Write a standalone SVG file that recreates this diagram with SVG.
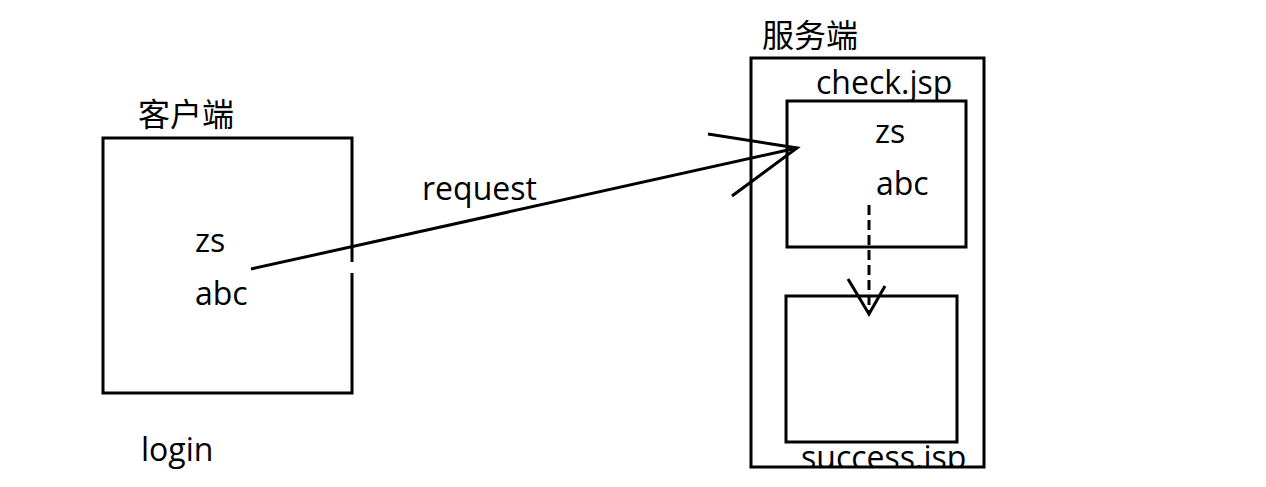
<svg xmlns="http://www.w3.org/2000/svg" width="1266" height="487" viewBox="0 0 1266 487">
<style>
.box{fill:none;stroke:#000;stroke-width:3}
.t{font-family:"Open Sans","Noto Sans CJK SC",sans-serif;font-size:32px;fill:#000}
.c{font-family:"Noto Sans CJK SC",sans-serif;font-size:32px;fill:#000}
.ln{stroke:#000;stroke-width:3;fill:none}
</style>
<defs>
<clipPath id="clipCheck"><rect x="800" y="50" width="180" height="50"/></clipPath>
<clipPath id="clipSucc"><rect x="790" y="430" width="200" height="36"/></clipPath>
<clipPath id="clipAbc"><rect x="180" y="270" width="67" height="50"/></clipPath>
</defs>
<rect width="1266" height="487" fill="#fff"/>
<g id="client">
<rect class="box" x="103" y="138" width="249" height="255"/>
<text class="c" x="138" y="126">客户端</text>
<text class="t" x="195" y="252">zs</text>
<text class="t" x="195" y="305" clip-path="url(#clipAbc)">abc</text>
<rect x="349" y="262" width="6" height="11" fill="#fff"/>
<text class="t" x="141" y="461">login</text>
</g>
<g id="server">
<rect class="box" x="751" y="58" width="233" height="409"/>
<text class="c" x="762" y="47">服务端</text>
</g>
<g id="check">
<text class="t" x="816" y="94" clip-path="url(#clipCheck)">check.jsp</text>
<rect class="box" x="787" y="101" width="179" height="146"/>
<text class="t" x="875" y="143">zs</text>
<text class="t" x="876" y="195">abc</text>
</g>
<g id="success">
<rect class="box" x="786" y="296" width="171" height="146"/>
<text class="t" x="801" y="469" clip-path="url(#clipSucc)">success.jsp</text>
</g>
<g id="connectors">
<line class="ln" x1="251" y1="269" x2="797" y2="148"/>
<polyline class="ln" points="708,134 797,148 732,196"/>
<text class="t" x="422" y="200">request</text>
<line class="ln" x1="869" y1="205" x2="869" y2="314" stroke-dasharray="10,5"/>
<polyline class="ln" points="848,279 869,314 885,286"/>
</g>
</svg>
